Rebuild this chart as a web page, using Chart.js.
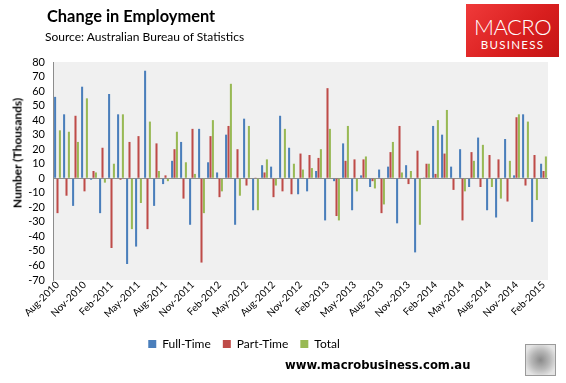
<!DOCTYPE html>
<html>
<head>
<meta charset="utf-8">
<script src="https://cdn.jsdelivr.net/npm/chart.js@4/dist/chart.umd.min.js"></script>
<style>
  html, body { margin:0; padding:0; background:#fff; }
  #wrap { position:relative; width:566px; height:383px; overflow:hidden; font-family: Lato, "Open Sans", sans-serif; }
  #c { position:absolute; left:0; top:0; }
  .abs { position:absolute; white-space:nowrap; }
  #title { left:47px; top:6px; font-size:16.4px; font-weight:bold; color:#000; }
  #source { left:45px; top:29px; font-size:12px; color:#000; }
  #ytitle { left:17px; top:153px; font-size:12px; font-weight:bold; transform:translate(-50%,-50%) rotate(-90deg); }
  #logo { left:466px; top:4px; width:93px; height:53px; background:linear-gradient(135deg,#f03a3a,#d81e1e 60%,#c41515); color:#fff; text-align:center; font-family:Lato, sans-serif; }
  #logo .m { position:absolute; left:0; right:0; top:9px; font-size:22px; font-weight:300; letter-spacing:-0.5px; }
  #logo .b { position:absolute; left:0; right:0; top:34px; font-size:11.5px; font-weight:400; letter-spacing:1.3px; }
  #url { left:285px; top:358px; font-family:"DejaVu Sans", Verdana, sans-serif; font-weight:bold; font-size:11.6px; color:#000; }
  #wolf { left:525px; top:344px; width:29px; height:30px; border:1px solid #9a9a9a; background:radial-gradient(circle at 50% 50%, #8a8a8a 0, #b8b8b8 45%, #e4e4e4 80%); }
</style>
</head>
<body>
<div id="wrap">
  <canvas id="c" width="566" height="383"></canvas>
  <div class="abs" id="title">Change in Employment</div>
  <div class="abs" id="source">Source: Australian Bureau of Statistics</div>
  <div class="abs" id="ytitle">Number (Thousands)</div>
  <div class="abs" id="logo"><div class="m">MACRO</div><div class="b">BUSINESS</div></div>
  <div class="abs" id="url">www.macrobusiness.com.au</div>
  <div class="abs" id="wolf"></div>
</div>
<script>
const months = [
  'Aug-2010','Sep-2010','Oct-2010','Nov-2010','Dec-2010','Jan-2011','Feb-2011','Mar-2011','Apr-2011','May-2011','Jun-2011','Jul-2011',
  'Aug-2011','Sep-2011','Oct-2011','Nov-2011','Dec-2011','Jan-2012','Feb-2012','Mar-2012','Apr-2012','May-2012','Jun-2012','Jul-2012',
  'Aug-2012','Sep-2012','Oct-2012','Nov-2012','Dec-2012','Jan-2013','Feb-2013','Mar-2013','Apr-2013','May-2013','Jun-2013','Jul-2013',
  'Aug-2013','Sep-2013','Oct-2013','Nov-2013','Dec-2013','Jan-2014','Feb-2014','Mar-2014','Apr-2014','May-2014','Jun-2014','Jul-2014',
  'Aug-2014','Sep-2014','Oct-2014','Nov-2014','Dec-2014','Jan-2015','Feb-2015'
];
const fullTime = [56,44,-19,63,-1,-24,58,44,-59,-47,74,-19,-4,12,25,-32,34,11,4,30,-32,41,-22,9,8,43,21,-11,-9,5,-29,-2,24,-22,2,-6,6,8,-31,9,-51,0.5,36,30,8,20,-6,28,-22,-27,27,2,44,-30,10];
const partTime = [-24,-12,43,-9,5,21,-48,-1,25,29,-35,24,2,20,-14,34,-58,29,-13,36,20,-5,0.5,4,-13,-9,-11,17,16,14,62,-26,12,13,13,-2,-24,18,36,-4,19,10,3,17,-8,-29,18,-6,16,13,-16,42,-5,16,5];
const total    = [33,32,25,55,4,-3,10,44,-35,-17,39,5,-2,32,11,3,-24,40,-9,65,-12,36,-22,13,-5,34,10,6,7,20,34,-29,36,-9,15,-7,-18,25,4,5,-32,10,40,47,0,-9,12,23,-6,-14,12,44,39,-15,15];
const seriesNames = ['Full-Time','Part-Time','Total'];
const yTicks = { min:-70, max:80, step:10 };

const plotBg = {
  id:'plotBg',
  beforeDraw(chart){
    const {ctx, chartArea:a} = chart;
    ctx.save();
    ctx.fillStyle = '#f0f0f0';
    ctx.fillRect(a.left, a.top, a.right - a.left, a.bottom - a.top);
    ctx.restore();
  }
};
const legendShift = {
  id:'legendShift',
  afterLayout(chart){
    const lg = chart.legend;
    if (lg) { lg.left -= 30; lg.right -= 30; }
  }
};

const font = { family:'Lato, "Open Sans", sans-serif', size:10 };

new Chart(document.getElementById('c'), {
  type:'bar',
  data:{
    labels: months,
    datasets:[
      { label:seriesNames[0], data:fullTime, backgroundColor:'#4a7ebb' },
      { label:seriesNames[1], data:partTime, backgroundColor:'#be4b48' },
      { label:seriesNames[2], data:total,    backgroundColor:'#98b954' }
    ]
  },
  options:{
    responsive:false,
    animation:false,
    devicePixelRatio:1,
    datasets:{ bar:{ categoryPercentage:0.8, barPercentage:0.85 } },
    layout:{ padding:{ left:0, right:18, top:62, bottom:23 } },
    plugins:{
      legend:{
        position:'bottom',
        labels:{ boxWidth:8, boxHeight:8, padding:12, color:'#000', font:{ family:font.family, size:12 } }
      },
      tooltip:{ enabled:false }
    },
    scales:{
      x:{
        grid:{ display:false },
        border:{ display:false },
        ticks:{
          autoSkip:false, minRotation:45, maxRotation:45, color:'#000', font:font, padding:-9,
          callback:(v,i)=> (i % 3 === 0 ? months[i] : '')
        },
        afterFit:(s)=>{ s.height = 46; }
      },
      y:{
        min:yTicks.min, max:yTicks.max,
        ticks:{ stepSize:yTicks.step, autoSkip:false, color:'#000', font:{ family:font.family, size:11 }, padding:8 },
        grid:{ drawTicks:false, color:(c)=> (c.tick && c.tick.value === 0 ? '#8c8c8c' : 'rgba(0,0,0,0)'), lineWidth:1 },
        border:{ display:true, color:'#8c8c8c' },
        afterFit:(s)=>{ s.width = 53; }
      }
    }
  },
  plugins:[plotBg, legendShift]
});
</script>
</body>
</html>
